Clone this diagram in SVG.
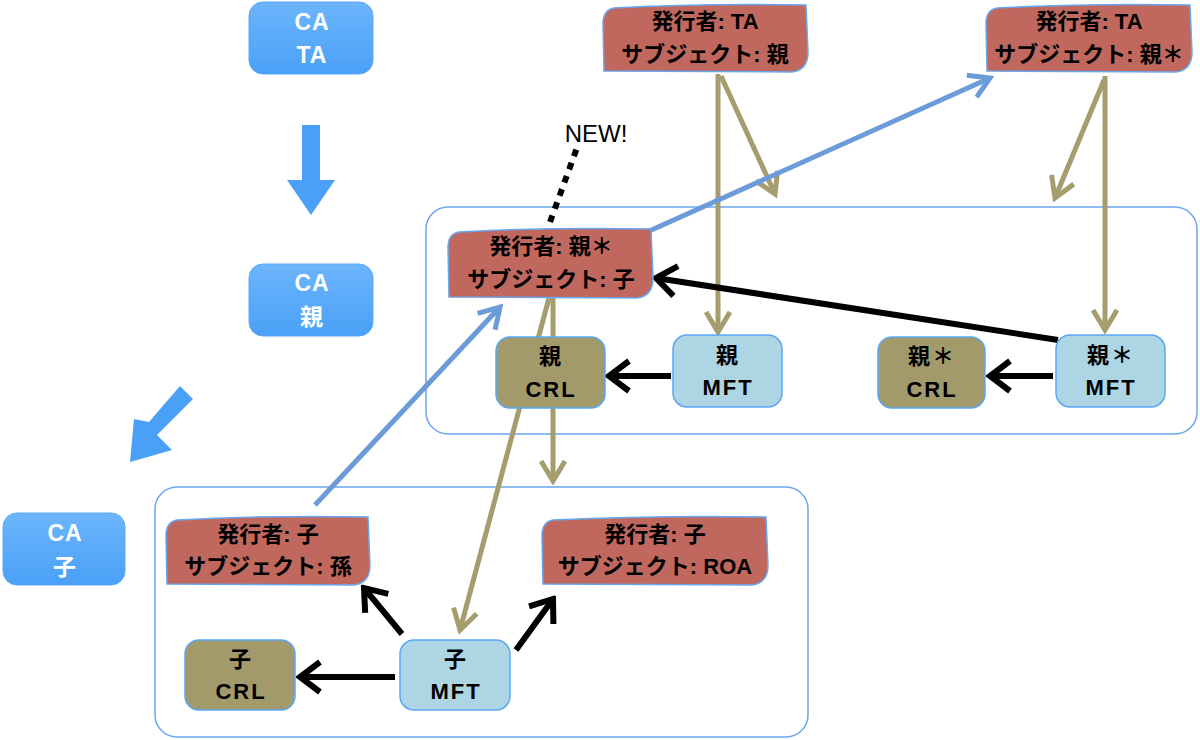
<svg xmlns="http://www.w3.org/2000/svg" width="1200" height="740" viewBox="0 0 1200 740">
<defs>
<linearGradient id="gBlue" x1="0" y1="0" x2="0" y2="1"><stop offset="0" stop-color="#6cb5fb"/><stop offset="1" stop-color="#4aa0f7"/></linearGradient>
<marker id="mOlive" viewBox="-24 -16 28 32" refX="0" refY="0" markerWidth="28" markerHeight="32" markerUnits="userSpaceOnUse" orient="auto"><path d="M-20,-12 L0,0 L-20,12" fill="none" stroke="#a69d6f" stroke-width="5"/></marker>
<marker id="mBlack" viewBox="-26 -20 30 40" refX="0" refY="0" markerWidth="30" markerHeight="40" markerUnits="userSpaceOnUse" orient="auto"><path d="M-20,-15 L0,0 L-20,15" fill="none" stroke="#000" stroke-width="6"/></marker>
<marker id="mBlue" viewBox="-26 -16 30 32" refX="0" refY="0" markerWidth="30" markerHeight="32" markerUnits="userSpaceOnUse" orient="auto"><path d="M-20,-12 L0,0 L-20,12" fill="none" stroke="#6b9bd8" stroke-width="5"/></marker>
</defs>
<style>
.ca{fill:url(#gBlue);stroke:#5aa8f5;stroke-width:1}
.cat{font-family:"Liberation Sans","Noto Sans CJK JP",sans-serif;font-weight:bold;font-size:23px;fill:#fff;text-anchor:middle;letter-spacing:1px}
.cert{fill:#c0675e;stroke:#6aa6ee;stroke-width:1.5}
.t{font-family:"Liberation Sans","Noto Sans CJK JP",sans-serif;font-weight:bold;font-size:22px;fill:#000;text-anchor:middle}
.n{font-family:"Liberation Sans","Noto Sans CJK JP",sans-serif;font-weight:bold;font-size:22px;fill:#000;text-anchor:middle;letter-spacing:2px}
.crl{fill:#a39a6c;stroke:#5aa8f5;stroke-width:1.5}
.mft{fill:#add5e3;stroke:#5aa8f5;stroke-width:1.5}
.box{fill:none;stroke:#6aa6ee;stroke-width:1.5}
.ol{fill:none;stroke:#a69d6f;stroke-width:5;marker-end:url(#mOlive)}
.bk{fill:none;stroke:#000;stroke-width:6;marker-end:url(#mBlack)}
.bl{fill:none;stroke:#6b9bd8;stroke-width:5;marker-end:url(#mBlue)}
</style>
<rect fill="#fff" width="1200" height="740"/>
<g id="containers">
<rect class="box" x="426" y="207" width="771" height="227" rx="22"/>
<rect class="box" x="155" y="487" width="653" height="250" rx="22"/>
</g>
<g id="connectors">
<path class="ol" d="M718,74 L718,332"/>
<path class="ol" d="M721,76 L775,194"/>
<path class="ol" d="M1105,76 L1105,330"/>
<path class="ol" d="M1104,80 L1055,198"/>
<path class="ol" d="M553,298 L553,481"/>
<path class="ol" d="M549,298 L460,630"/>
<path class="bl" d="M647,232 L990,78"/>
<path class="bl" d="M315,505 L500,307"/>
<path class="bk" d="M1058,340 L656,278"/>
<path class="bk" d="M671,376 L609,376"/>
<path class="bk" d="M1053,376 L990,376"/>
<path class="bk" d="M395,677 L300,677"/>
<path class="bk" d="M402,634 L364,588"/>
<path class="bk" d="M516,650 L553,599"/>
<path d="M550,222 L578,145" stroke="#000" stroke-width="6" stroke-dasharray="7 7" fill="none"/>
</g>
<text x="596" y="142" font-family="Liberation Sans, sans-serif" font-size="24" text-anchor="middle" fill="#000">NEW!</text>
<g id="ca-ta"><rect class="ca" x="249" y="2" width="124" height="72" rx="14"/><text class="cat" x="312" y="30">CA</text><text class="cat" x="312" y="63">TA</text></g>
<g id="ca-oya"><rect class="ca" x="249" y="264" width="124" height="72" rx="14"/><text class="cat" x="312" y="291">CA</text><text class="cat" x="312" y="325">親</text></g>
<g id="ca-ko"><rect class="ca" x="3" y="513" width="122" height="72" rx="14"/><text class="cat" x="65" y="541">CA</text><text class="cat" x="65" y="575">子</text></g>
<g id="big-arrows" fill="#4aa0f7">
<path d="M302,125 L320,125 L320,180 L335,180 L311,215 L287,180 L302,180 Z"/>
<path d="M180,386 L193,399 L157,435 L172,450 L130,462 L134,419 L149,422 Z"/>
</g>
<g id="cert-ta-oya"><path class="cert" d="M614,8 Q603,10 603,24 L604,71 L792,72 Q808,70 808,52 L806,5 Q700,3 614,8 Z"/><text class="t" x="705" y="29">発行者: TA</text><text class="t" x="705" y="62">サブジェクト: 親</text></g>
<g id="cert-ta-oyastar"><path class="cert" d="M997,8 Q986,10 986,24 L987,71 L1176,72 Q1192,70 1192,52 L1190,5 Q1090,3 997,8 Z"/><text class="t" x="1089" y="29">発行者: TA</text><text class="t" x="1089" y="62">サブジェクト: 親＊</text></g>
<g id="cert-oyastar-ko"><path class="cert" d="M459,232 Q448,234 448,248 L449,297 L637,298 Q653,296 653,278 L651,229 Q550,227 459,232 Z"/><text class="t" x="551" y="254">発行者: 親＊</text><text class="t" x="551" y="287">サブジェクト: 子</text></g>
<g id="cert-ko-mago"><path class="cert" d="M177,520 Q166,522 166,536 L167,584 L354,585 Q370,583 370,565 L368,517 Q270,515 177,520 Z"/><text class="t" x="268" y="542">発行者: 子</text><text class="t" x="268" y="574">サブジェクト: 孫</text></g>
<g id="cert-ko-roa"><path class="cert" d="M553,520 Q542,522 542,536 L543,584 L752,585 Q768,583 768,565 L766,517 Q660,515 553,520 Z"/><text class="t" x="655" y="542">発行者: 子</text><text class="t" x="655" y="574">サブジェクト: ROA</text></g>
<g id="oya-crl"><rect class="crl" x="496" y="337" width="109" height="71" rx="14"/><text class="n" x="551" y="364">親</text><text class="n" x="551" y="397">CRL</text></g>
<g id="oya-mft"><rect class="mft" x="673" y="335" width="109" height="72" rx="14"/><text class="n" x="728" y="363">親</text><text class="n" x="728" y="395">MFT</text></g>
<g id="oyastar-crl"><rect class="crl" x="878" y="337" width="107" height="71" rx="14"/><text class="n" x="932" y="364">親＊</text><text class="n" x="932" y="397">CRL</text></g>
<g id="oyastar-mft"><rect class="mft" x="1056" y="335" width="109" height="72" rx="14"/><text class="n" x="1111" y="363">親＊</text><text class="n" x="1111" y="395">MFT</text></g>
<g id="ko-crl"><rect class="crl" x="185" y="640" width="110" height="70" rx="14"/><text class="n" x="241" y="667">子</text><text class="n" x="241" y="699">CRL</text></g>
<g id="ko-mft"><rect class="mft" x="400" y="640" width="110" height="70" rx="14"/><text class="n" x="456" y="667">子</text><text class="n" x="456" y="699">MFT</text></g>
</svg>
